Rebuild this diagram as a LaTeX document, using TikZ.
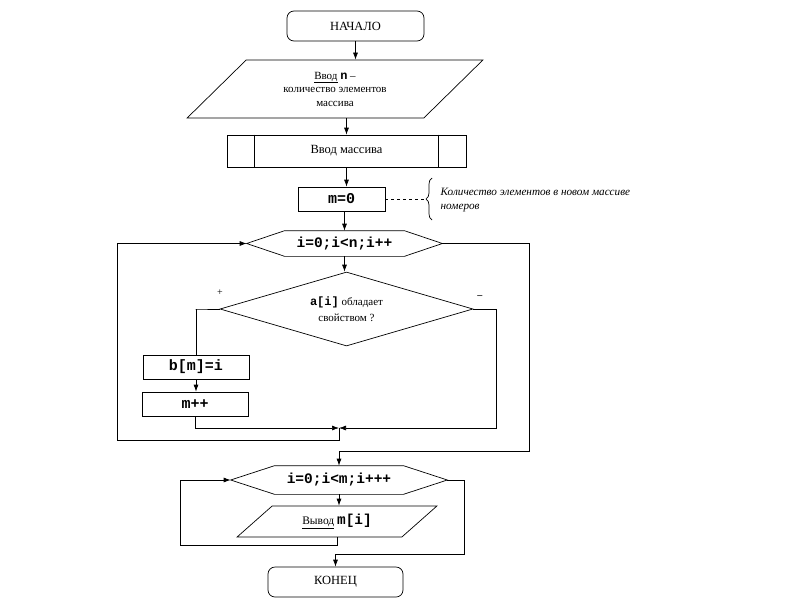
\documentclass[tikz,border=0pt]{standalone}
\usepackage{fontspec}
\setmainfont{Liberation Serif}
\setmonofont{Liberation Mono}
\usetikzlibrary{arrows.meta, positioning, shapes.geometric, decorations.pathreplacing}

% hexagon round a loop node: #1 name, #2 depth of the points
\newcommand{\loophex}[2]{%
  \draw (#1.west) -- ([xshift=#2]#1.north west) -- ([xshift=-#2]#1.north east)
    -- (#1.east) -- ([xshift=-#2]#1.south east) -- ([xshift=#2]#1.south west) -- cycle;}

\begin{document}
\begin{tikzpicture}[x=1pt, y=-1pt, >={Latex[length=7pt, width=5pt]}, line width=0.7pt,
    term/.style = {draw, rounded corners=7pt, minimum width=137pt, minimum height=30pt,
      font=\fontsize{12.5}{14}\selectfont},
    io/.style = {draw, trapezium, trapezium stretches=true, inner sep=0pt, align=center},
    box/.style = {draw, minimum height=24pt, inner sep=0pt},
    hexn/.style = {inner sep=0pt},
    code/.style = {font=\fontsize{15}{17}\selectfont\ttfamily\bfseries}]
  \useasboundingbox[fill=white] (0,0) rectangle (800,600);

  \node[term] (start) at (355.5,26) {НАЧАЛО};
  \node[io, minimum width=296pt, minimum height=58pt, trapezium left angle=45,
    trapezium right angle=135, font=\fontsize{11}{13.5}\selectfont] (inn) at (335,89)
    {\underline{Ввод} \texttt{\textbf{\large n}} –\\количество элементов\\массива};
  \node[box, minimum width=239pt, minimum height=32pt, font=\fontsize{12.5}{14}\selectfont]
    (arr) at (346.5,151) {Ввод массива};
  \draw ([xshift=28pt]arr.north west) -- ([xshift=28pt]arr.south west);
  \draw ([xshift=-28pt]arr.north east) -- ([xshift=-28pt]arr.south east);

  \node[box, minimum width=87pt, code] (m0) at (341.5,199) {m=0};
  % note on m
  \coordinate (brtip) at (424,199);
  \draw[decorate, decoration={brace, amplitude=6pt}] (432,220) -- (432,178);
  \draw[dashed] (m0.east) -- (brtip);
  \node[anchor=west, align=left, font=\fontsize{11.2}{14}\selectfont\itshape] (note) at (437,200)
    {Количество элементов в новом массиве\\номеров};

  % first loop
  \node[hexn, code, font=\fontsize{14.5}{16}\selectfont\ttfamily\bfseries, minimum width=195pt,
    minimum height=25pt] (loop1) at (344.5,243.5) {i=0;i<n;i++};
  \loophex{loop1}{38pt}
  \node[draw, diamond, aspect=3.42, minimum width=253pt, minimum height=74pt, inner sep=0pt,
    align=center, font=\fontsize{11}{16}\selectfont] (cond) at (346.5,309)
    {\texttt{\textbf{\large a[i]}} обладает\\свойством ?};
  \node (plus) at (220,293) {+};
  \node (minus) at (480,297) {\textbf{--}};
  \node[box, minimum width=106pt, code] (bm) at (196,367) {b[m]=i};
  \node[box, minimum width=106pt, code] (minc) at (195,404) {m++};
  \coordinate (merge) at (339,428);
  \coordinate (back1) at (117,440);
  \coordinate (exit1) at (529,451);

  % second loop
  \node[hexn, code, font=\fontsize{14.5}{16}\selectfont\ttfamily\bfseries, minimum width=216pt,
    minimum height=28pt] (loop2) at (339,480) {i=0;i<m;i+++};
  \loophex{loop2}{44pt}
  \node[io, minimum width=200pt, minimum height=31pt, trapezium left angle=38,
    trapezium right angle=142, font=\fontsize{11.5}{13}\selectfont] (outp) at (337,521.5)
    {\underline{Вывод} \texttt{\textbf{\Large m[i]}}};
  \coordinate (back2) at (180,545);
  \coordinate (exit2) at (464,554);
  \node[term, minimum width=135pt] (stop) at (335.5,582) {КОНЕЦ};

  \draw[->] (start.south) -- (start.south |- inn.north);
  \draw[->] (arr.north |- inn.south) -- (arr.north);
  \draw[->] (arr.south) -- (arr.south |- m0.north);
  \draw[->] (loop1.north |- m0.south) -- (loop1.north);
  \draw[->] (loop1.south) -- (loop1.south |- cond.north);
  \draw (cond.west) -- ++(-24,0) -| (bm.north);
  \draw[->] (bm.south) -- (bm.south |- minc.north);
  \draw[->] (minc.south) |- (merge);
  \draw[->] (cond.east) -- ++(23,0) |- (merge);
  \draw[->] (merge) |- (back1) |- (loop1.west);
  \draw[->] (loop1.east) -| (exit1) -| (loop2.north);
  \draw[->] (loop2.south) -- (loop2.south |- outp.north);
  \draw[->] (outp.south) |- (back2) |- (loop2.west);
  \draw[->] (loop2.east) -| (exit2) -| (stop.north);
\end{tikzpicture}
\end{document}
